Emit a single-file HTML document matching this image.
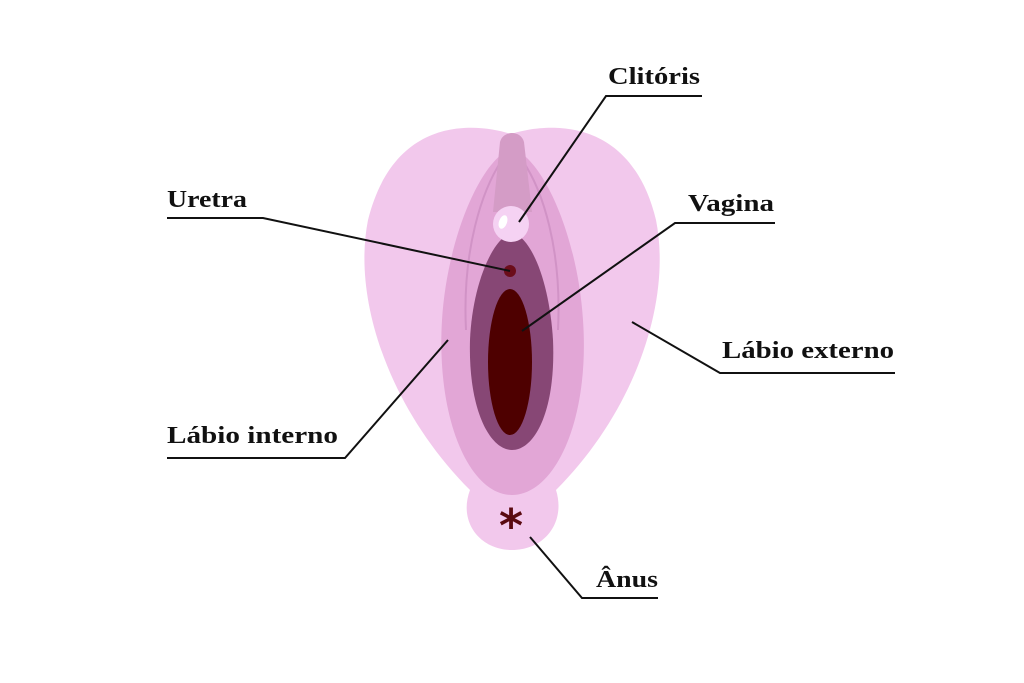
<!DOCTYPE html>
<html><head><meta charset="utf-8"><style>
html,body{margin:0;padding:0;background:#fff;}
svg{display:block}
text{font-family:"Liberation Serif",serif;font-weight:bold;font-size:24px;fill:#111;}
</style></head><body>
<svg width="1024" height="683" viewBox="0 0 1024 683">
<path d="M511,134 C480,124 395,112 368,220 C352,300 390,410 470,490 C458,522 480,550 512,550 C545,550 566,522 556,490 C636,410 672,300 656,220 C630,112 542,124 511,134Z" fill="#f2c8ec"/>
<path d="M512,148 C480,160 447,240 442,320 C436,420 470,495 512,495 C555,495 590,420 583,320 C578,240 545,160 512,148Z" fill="#e2a6d6"/>
<path d="M466,330 C462,250 482,190 502,160 M558,330 C562,250 543,190 522,160" stroke="#d193c6" stroke-width="2" fill="none"/>
<path d="M512,232 C490,240 472,290 470,340 C468,410 490,450 512,450 C535,450 556,410 553,340 C550,290 535,240 512,232Z" fill="#874775"/>
<ellipse cx="510" cy="362" rx="22" ry="73" fill="#4e0000"/>
<path d="M500,142 C503,130 521,130 524,142 L532,212 L493,212 Z" fill="#d49cc6"/>
<circle cx="511" cy="224" r="18" fill="#f5d2f3"/>
<ellipse cx="503" cy="222" rx="4" ry="7" transform="rotate(20 503 222)" fill="#fff"/>
<circle cx="510" cy="271" r="6" fill="#6b0d1a"/>
<text x="511" y="542" text-anchor="middle" style="font-family:'DejaVu Sans',sans-serif;font-size:46px;fill:#5a0a10">*</text>
<g stroke="#111" stroke-width="2" fill="none">
<polyline points="702,96 606,96 519,222"/>
<polyline points="167,218 263,218 510,271"/>
<polyline points="775,223 675,223 522,331"/>
<polyline points="895,373 720,373 632,322"/>
<polyline points="167,458 345,458 448,340"/>
<polyline points="658,598 582,598 530,537"/>
</g>
<text x="608" y="84" textLength="92" lengthAdjust="spacingAndGlyphs">Clitóris</text>
<text x="167" y="207" textLength="80" lengthAdjust="spacingAndGlyphs">Uretra</text>
<text x="688" y="211" textLength="86" lengthAdjust="spacingAndGlyphs">Vagina</text>
<text x="722" y="358" textLength="172" lengthAdjust="spacingAndGlyphs">Lábio externo</text>
<text x="167" y="443" textLength="171" lengthAdjust="spacingAndGlyphs">Lábio interno</text>
<text x="596" y="587" textLength="62" lengthAdjust="spacingAndGlyphs">Ânus</text>
</svg>
</body></html>
